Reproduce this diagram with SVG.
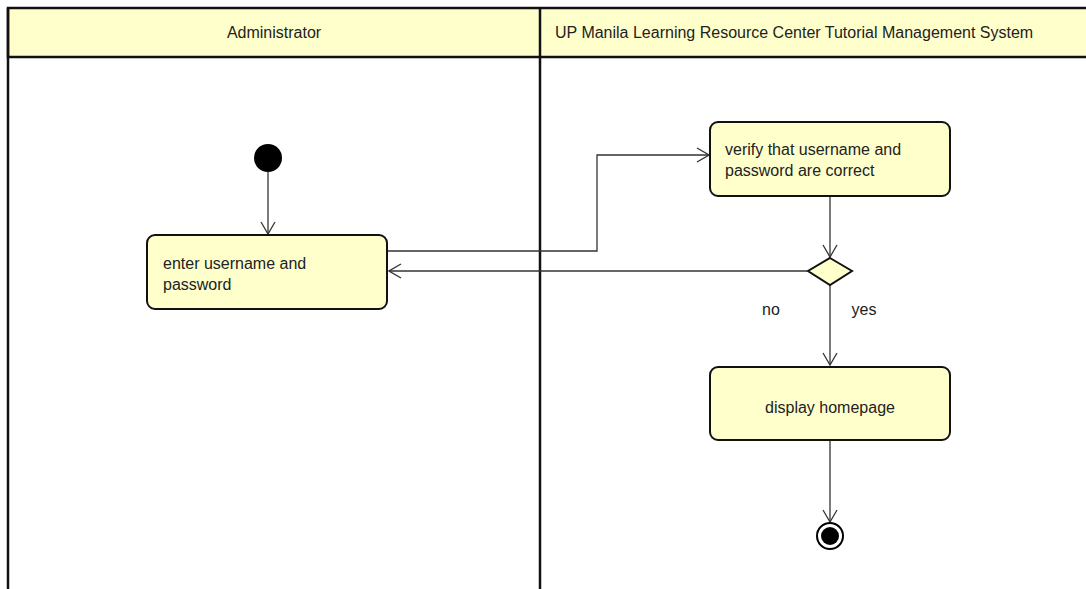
<svg xmlns="http://www.w3.org/2000/svg" width="1086" height="589" viewBox="0 0 1086 589">
<defs>
<style>
.lane{fill:none;stroke:#111;stroke-width:2.5}
.hdr{fill:#FFFFCC;stroke:#111;stroke-width:2.5}
.act{fill:#FFFFCC;stroke:#111;stroke-width:2}
.t{font-family:"Liberation Sans",Arial,sans-serif;font-size:16px;fill:#222}
.c{fill:none;stroke:#333;stroke-width:1.3}
</style>
<marker id="oa" viewBox="0 0 14 16" refX="13" refY="8" markerWidth="14" markerHeight="16" markerUnits="userSpaceOnUse" orient="auto">
<path d="M1,1 L13,8 L1,15" fill="none" stroke="#333" stroke-width="1.3"/>
</marker>
</defs>
<rect width="1086" height="589" fill="#fff"/>
<g id="lanes">
<rect class="hdr" x="8" y="8" width="1090" height="49"/>
<line class="lane" x1="8" y1="8" x2="8" y2="589"/>
<line class="lane" x1="540" y1="8" x2="540" y2="589"/>
<text class="t" x="274" y="38" text-anchor="middle">Administrator</text>
<text class="t" x="555" y="38">UP Manila Learning Resource Center Tutorial Management System</text>
</g>
<g id="connectors">
<line class="c" x1="268" y1="172" x2="268" y2="234" marker-end="url(#oa)"/>
<polyline class="c" points="388,251 597,251 597,155 709,155" marker-end="url(#oa)"/>
<line class="c" x1="830" y1="197" x2="830" y2="257" marker-end="url(#oa)"/>
<line class="c" x1="807" y1="271" x2="389" y2="271" marker-end="url(#oa)"/>
<line class="c" x1="830" y1="285" x2="830" y2="365" marker-end="url(#oa)"/>
<line class="c" x1="830" y1="441" x2="830" y2="522" marker-end="url(#oa)"/>
<text class="t" x="771" y="315" text-anchor="middle">no</text>
<text class="t" x="864" y="315" text-anchor="middle">yes</text>
</g>
<g id="start"><circle cx="268" cy="158" r="14" fill="#000"/></g>
<g id="enter">
<rect class="act" x="147" y="235" width="240" height="74" rx="8"/>
<text class="t" x="163" y="269">enter username and</text>
<text class="t" x="163" y="290">password</text>
</g>
<g id="verify">
<rect class="act" x="710" y="122" width="240" height="74" rx="8"/>
<text class="t" x="725" y="155">verify that username and</text>
<text class="t" x="725" y="176">password are correct</text>
</g>
<g id="decision"><polygon class="act" points="830,258 852,271 830,285 808,271"/></g>
<g id="display">
<rect class="act" x="710" y="367" width="240" height="73" rx="8"/>
<text class="t" x="830" y="413" text-anchor="middle">display homepage</text>
</g>
<g id="end">
<circle cx="830" cy="536" r="13" fill="#fff" stroke="#000" stroke-width="2"/>
<circle cx="830" cy="536" r="9" fill="#000"/>
</g>
</svg>
